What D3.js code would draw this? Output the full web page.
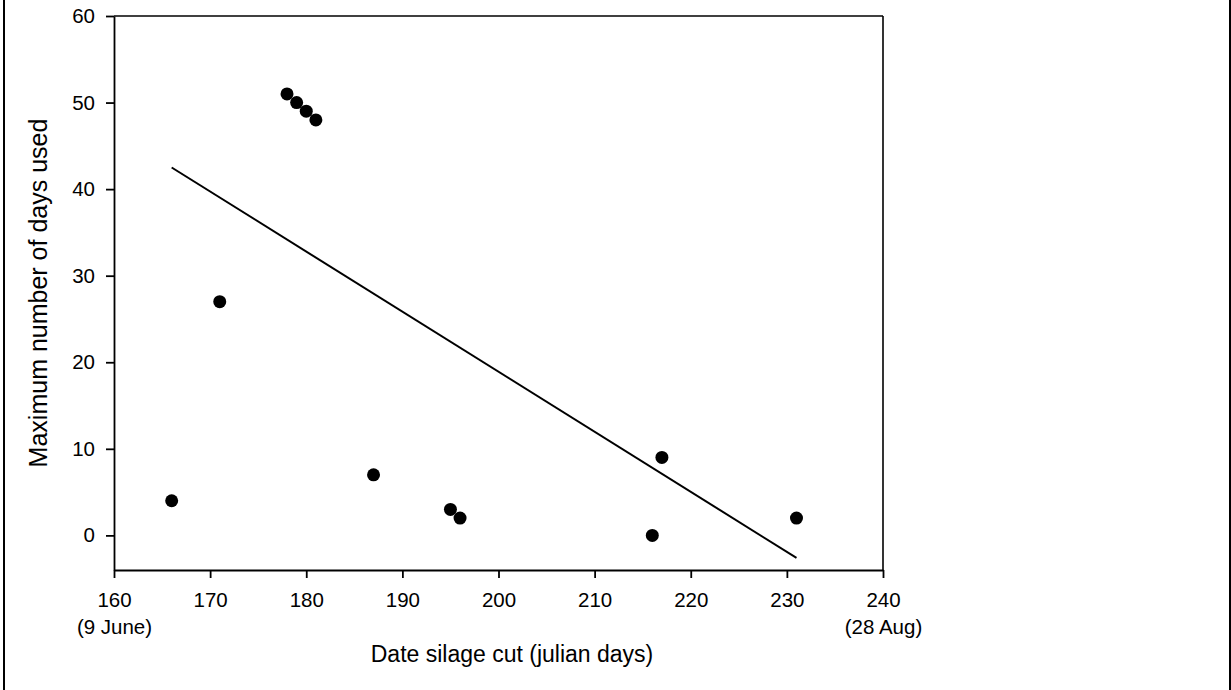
<!DOCTYPE html>
<html><head><meta charset="utf-8">
<script src="https://cdn.jsdelivr.net/npm/d3@7"></script>
<style>
html,body{margin:0;padding:0;background:#fff;}
svg{display:block;font-family:"Liberation Sans",Arial,sans-serif;}
</style></head>
<body><svg id="c" width="1231" height="690"></svg>
<script>
// data
const cutDay = [166, 171, 178, 179, 180, 181, 187, 195, 196, 216, 217, 231];
const maxDays = [4, 27, 51, 50, 49, 48, 7, 3, 2, 0, 9, 2];
const fitX = [166, 231];
const fitY = [42.5, -2.6];
const xTicks = [160, 170, 180, 190, 200, 210, 220, 230, 240];
const yTicks = [0, 10, 20, 30, 40, 50, 60];
const xSubLabels = {160: "(9 June)", 240: "(28 Aug)"};
const xTitle = "Date silage cut (julian days)";
const yTitle = "Maximum number of days used";

const svg = d3.select("#c");
const L = 114, R = 883, T = 16, B = 570;
const x = d3.scaleLinear().domain([160, 240]).range([L, R]);
const y = d3.scaleLinear().domain([-4, 60]).range([B, T]);
const FONT = '"Liberation Sans",Arial,sans-serif';

// outer frame (left and right edges)
svg.append("line").attr("x1",4).attr("x2",4).attr("y1",0).attr("y2",690).attr("stroke","#000").attr("stroke-width",2);
svg.append("line").attr("x1",1230).attr("x2",1230).attr("y1",0).attr("y2",690).attr("stroke","#000").attr("stroke-width",2);

// top and right frame
svg.append("line").attr("x1",L).attr("x2",R).attr("y1",T).attr("y2",T).attr("stroke","#000").attr("stroke-width",1.6);
svg.append("line").attr("x1",R).attr("x2",R).attr("y1",T).attr("y2",B).attr("stroke","#000").attr("stroke-width",1.6);

const xa = svg.append("g").attr("transform",`translate(0,${B})`)
  .call(d3.axisBottom(x).tickValues(xTicks).tickSize(8).tickSizeOuter(0).tickPadding(14).tickFormat(d3.format("d")));
const ya = svg.append("g").attr("transform",`translate(${L},0)`)
  .call(d3.axisLeft(y).tickValues(yTicks).tickSize(8).tickSizeOuter(0).tickPadding(11).tickFormat(d3.format("d")));
[xa, ya].forEach(a => {
  a.selectAll("path.domain").attr("stroke","#000").attr("stroke-width",1.8);
  a.selectAll(".tick line").attr("stroke","#000").attr("stroke-width",1.8);
  a.selectAll("text").attr("fill","#000").style("font-size","20.5px").style("font-family",FONT);
});
xa.selectAll(".tick").each(function(d){
  if (xSubLabels[d]) {
    d3.select(this).append("text").attr("y", 64).attr("fill","#000")
      .attr("text-anchor","middle")
      .style("font-size","20.5px").style("font-family",FONT)
      .text(xSubLabels[d]);
  }
});

// fit line
svg.append("line")
  .attr("x1", x(fitX[0])).attr("y1", y(fitY[0]))
  .attr("x2", x(fitX[1])).attr("y2", y(fitY[1]))
  .attr("stroke","#000").attr("stroke-width",2);

// points
svg.append("g").selectAll("circle").data(cutDay.map((d,i)=>[d,maxDays[i]])).join("circle")
  .attr("cx", d=>x(d[0])).attr("cy", d=>y(d[1])).attr("r", 6.5).attr("fill","#000");

// titles
svg.append("text").attr("x",512).attr("y",662).attr("text-anchor","middle")
  .style("font-size","23px").attr("fill","#000").text(xTitle);
svg.append("text").attr("transform",`translate(47,${(T+B)/2}) rotate(-90)`).attr("text-anchor","middle")
  .style("font-size","25px").attr("fill","#000").text(yTitle);
</script></body></html>
